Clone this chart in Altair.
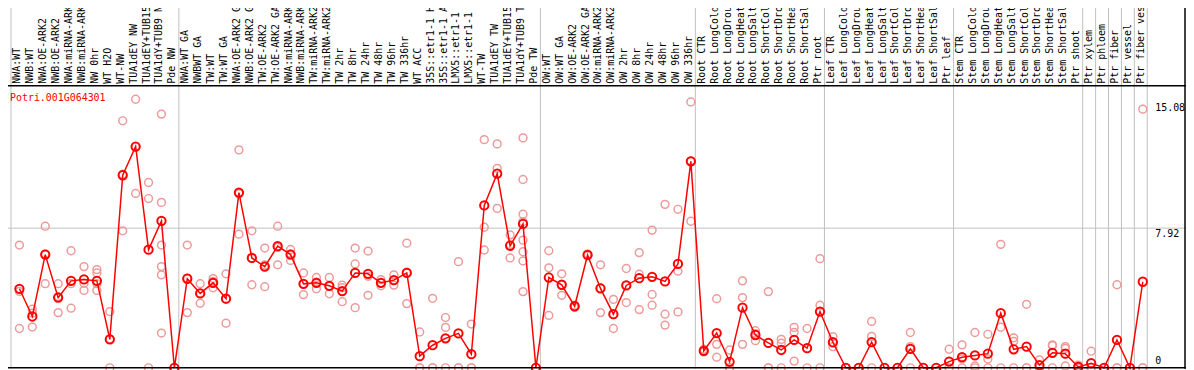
import altair as alt
import pandas as pd

categories = [
    "NWA:WT", "NWB:WT", "NWA:OE-ARK2", "NWB:OE-ARK2", "NWA:miRNA-ARK2", "NWB:miRNA-ARK2",
    "NW 0hr", "WT H2O", "WT-NW", "TUA1dEY NW", "TUA1dEY+TUB15 NW", "TUA1dY+TUB9 NW", "Pde NW",
    "NWA:WT GA", "NWBWT GA", "TW:WT", "TW:WT GA", "NWA:OE-ARK2 GA", "NWB:OE-ARK2 GA",
    "TW:OE-ARK2", "TW:OE-ARK2 GA", "NWA:miRNA-ARK2 GA", "NWB:miRNA-ARK2 GA", "TW:miRNA-ARK2",
    "TW:miRNA-ARK2 GA", "TW 2hr", "TW 8hr", "TW 24hr", "TW 48hr", "TW 96hr", "TW 336hr",
    "WT ACC", "35S::etr1-1 H2O", "35S::etr1-1 ACC", "LMX5::etr1-1 H2O", "LMX5::etr1-1 ACC",
    "WT-TW", "TUA1dEY TW", "TUA1dEY+TUB15 TW", "TUA1dY+TUB9 TW", "Pde TW",
    "OW:WT", "OW:WT GA", "OW:OE-ARK2", "OW:OE-ARK2 GA", "OW:miRNA-ARK2", "OW:miRNA-ARK2 GA",
    "OW 2hr", "OW 8hr", "OW 24hr", "OW 48hr", "OW 96hr", "OW 336hr",
    "Root CTR", "Root LongCold", "Root LongDrought", "Root LongHeat", "Root LongSalt",
    "Root ShortCold", "Root ShortDrought", "Root ShortHeat", "Root ShortSalt", "Ptr root",
    "Leaf CTR", "Leaf LongCold", "Leaf LongDrought", "Leaf LongHeat", "Leaf LongSalt",
    "Leaf ShortCold", "Leaf ShortDrought", "Leaf ShortHeat", "Leaf ShortSalt", "Ptr leaf",
    "Stem CTR", "Stem LongCold", "Stem LongDrought", "Stem LongHeat", "Stem LongSalt",
    "Stem ShortCold", "Stem ShortDrought", "Stem ShortHeat", "Stem ShortSalt", "Ptr shoot",
    "Ptr xylem", "Ptr phloem", "Ptr fiber", "Ptr vessel", "Ptr fiber vessel",
]

means = [
    4.48, 2.91, 6.42, 3.98, 4.93, 5.01, 4.93, 1.61, 10.92, 12.55, 6.70, 8.33, 0,
    5.05, 4.22, 4.82, 3.92, 9.94, 6.23, 5.74, 6.90, 6.42, 4.76, 4.82, 4.65, 4.35, 5.38, 5.33,
    4.82, 4.97, 5.38, 0.66, 1.28, 1.67, 1.95, 0.77, 9.21, 11.01, 6.92, 8.16, 0,
    5.12, 4.71, 3.49, 6.40, 4.50, 3.04, 4.67, 5.08, 5.16, 4.90, 5.89, 11.71,
    0.96, 1.97, 0.34, 3.41, 1.86, 1.41, 1.01, 1.58, 1.11, 3.19,
    1.45, 0, 0, 1.46, 0, 0, 1.07, 0, 0, 0.35,
    0.6, 0.7, 0.8, 3.1, 1.05, 1.2, 0.15, 0.85, 0.8, 0.05,
    0.26, 0, 1.58, 0, 4.88,
]

replicates = [
    [6.96, 4.33, 2.23], [3.32, 3.10, 2.31], [8.03, 6.46, 4.77], [4.77, 4.04, 3.13],
    [6.64, 4.77, 3.38], [5.74, 4.80, 4.39], [5.57, 5.38, 4.77, 4.39], [3.19, 1.64, 0],
    [14.01, 10.98, 7.77], [15.23, 12.53, 9.89], [10.51, 9.60, 0],
    [14.39, 9.38, 6.96, 5.74, 5.27, 1.97], [0, 0, 0],
    [6.96, 5.09, 3.13], [4.77, 4.23, 3.66], [5.06, 4.90, 4.54], [5.33, 3.90, 2.53],
    [12.36, 9.88, 7.58], [7.77, 6.21, 4.71], [6.79, 5.83, 4.60], [8.03, 6.83, 5.84],
    [6.71, 6.46, 6.09], [5.38, 4.75, 4.15], [5.12, 4.86, 4.48], [5.12, 4.63, 4.20],
    [4.69, 4.54, 3.75], [6.79, 5.89, 3.41], [6.62, 5.19, 4.11], [5.00, 4.82, 4.65],
    [5.27, 4.95, 4.69], [7.07, 5.43, 3.64], [2.03, 0, 0], [3.94, 0, 0], [2.85, 2.29, 0],
    [6.02, 0, 0], [2.48, 0, 0], [12.94, 7.97, 6.68], [12.70, 11.31, 9.04],
    [7.54, 6.99, 6.23], [13.04, 10.68, 8.71, 8.29, 7.24, 6.58, 6.06, 4.32], [0, 0, 0],
    [6.64, 5.67, 2.97], [5.33, 4.69, 4.11], [3.55, 3.49, 3.43], [6.45, 6.40, 6.35],
    [5.84, 4.53, 3.13], [3.88, 3.01, 2.23], [5.63, 4.68, 3.70], [6.53, 5.31, 3.30],
    [7.81, 4.16, 3.55], [9.27, 3.04, 2.42], [8.99, 5.48, 3.17], [15.08, 11.74, 8.31],
    [1.05, 0.95, 0.90], [3.92, 1.33, 0.60], [1.01, 0, 0], [4.93, 3.98, 1.33],
    [2.10, 1.94, 1.54], [4.32, 0, 0], [1.61, 1.39, 0], [2.29, 2.01, 0.38], [2.23, 1.10, 0],
    [6.19, 3.55, 0],
    [1.76, 1.40, 1.20], [0, 0, 0], [0, 0, 0], [2.63, 1.78, 0], [0, 0, 0], [0, 0, 0],
    [2.0, 1.2, 0], [0, 0, 0], [0, 0, 0], [1.05, 0, 0],
    [1.3, 0.5, 0], [2.0, 0.1, 0], [1.9, 0.5, 0], [7.0, 2.3, 0], [1.7, 1.5, 0], [3.6, 0, 0],
    [0.45, 0, 0], [1.3, 1.25, 0], [1.1, 1.2, 0.1], [0.15, 0, 0],
    [0.94, 0, 0], [0, 0, 0], [4.71, 0, 0], [0, 0, 0], [14.67, 0, 0],
]

group_starts = ["NWA:WT", "NWA:WT GA", "OW:WT", "Root CTR", "Leaf CTR", "Stem CTR",
                "Ptr xylem", "Ptr phloem", "Ptr fiber", "Ptr vessel", "Ptr fiber vessel"]
group_end = ["Ptr fiber vessel"]

gene_title = "Potri.001G064301"
y_labels = ["15.08", "7.92"]
y_label_values = [15.08, 7.92]
grid_value = 7.92

W, H = 1194, 370
MONO = "DejaVu Sans Mono"

mean_df = pd.DataFrame({"cat": categories, "v": means})
rep_df = pd.DataFrame(
    [{"cat": c, "v": v} for c, vals in zip(categories, replicates) for v in vals]
)

xscale = alt.Scale(domain=categories, range=[11, 1155], paddingInner=0, paddingOuter=0)
yscale = alt.Scale(domain=[0, 16], range=[369, 85])

def X(band=0.5):
    return alt.X("cat:N", scale=xscale, axis=None, bandPosition=band, sort=categories)

Y = alt.Y("v:Q", scale=yscale, axis=None)

gray = "#c0c0c0"

vlines = alt.Chart(pd.DataFrame({"cat": group_starts})).mark_rule(
    color=gray, strokeWidth=1
).encode(x=X(band=0), y=alt.value(0), y2=alt.value(H))

vline_end = alt.Chart(pd.DataFrame({"cat": group_end})).mark_rule(
    color=gray, strokeWidth=1
).encode(x=X(band=1), y=alt.value(0), y2=alt.value(H))

hgrid = alt.Chart(pd.DataFrame({"v": [grid_value]})).mark_rule(
    color=gray, strokeWidth=1
).encode(y=Y, x=alt.value(0), x2=alt.value(W))

frame_h = alt.Chart(pd.DataFrame({"v": [0, 16]})).mark_rule(
    color="black", strokeWidth=1.5
).encode(y=Y, x=alt.value(0), x2=alt.value(W))

frame_left = alt.Chart(pd.DataFrame({"k": [0]})).mark_rule(
    color="black", strokeWidth=1.5
).encode(x=alt.value(0.5), y=alt.value(0), y2=alt.value(H))

frame_right = alt.Chart(pd.DataFrame({"k": [0]})).mark_rule(
    color="black", strokeWidth=1.5
).encode(x=alt.value(1193), y=alt.value(0), y2=alt.value(H))

cat_labels = alt.Chart(mean_df).mark_text(
    angle=270, align="left", baseline="middle", font=MONO, fontSize=10, color="black"
).encode(x=X(), y=alt.value(83), text="cat:N")

reps = alt.Chart(rep_df).mark_point(
    shape="circle", filled=False, color="#ee9a9a", size=62, strokeWidth=1.5, opacity=1, xOffset=2
).encode(x=X(), y=Y)

line = alt.Chart(mean_df).mark_line(color="#ff0000", strokeWidth=1.5, xOffset=2).encode(
    x=X(), y=Y
)

pts = alt.Chart(mean_df).mark_point(
    shape="circle", filled=False, color="#ff0000", size=70, strokeWidth=2, opacity=1, xOffset=2
).encode(x=X(), y=Y)

title_txt = alt.Chart(pd.DataFrame({"t": [gene_title]})).mark_text(
    align="left", baseline="middle", font=MONO, fontSize=10, color="#ff0000"
).encode(x=alt.value(10), y=alt.value(97), text="t:N")

ylab = alt.Chart(pd.DataFrame({"t": y_labels, "v": y_label_values})).mark_text(
    align="left", baseline="top", font=MONO, fontSize=10, color="black", dy=1
).encode(x=alt.value(1163), y=Y, text="t:N")

ylab0 = alt.Chart(pd.DataFrame({"t": ["0"], "v": [0]})).mark_text(
    align="left", baseline="alphabetic", font=MONO, fontSize=10, color="black", dy=-4
).encode(x=alt.value(1163), y=Y, text="t:N")

chart = alt.layer(
    vlines, vline_end, hgrid, cat_labels, reps, line, pts, title_txt, ylab, ylab0,
    frame_h, frame_left, frame_right,
).properties(
    width=W, height=H,
    autosize=alt.AutoSizeParams(type="none"),
    padding={"left": -8, "top": -8, "right": 0, "bottom": 0},
    background="white",
).configure_view(stroke=None)

chart.save("out.html", embed_options={"renderer": "svg", "actions": False})
